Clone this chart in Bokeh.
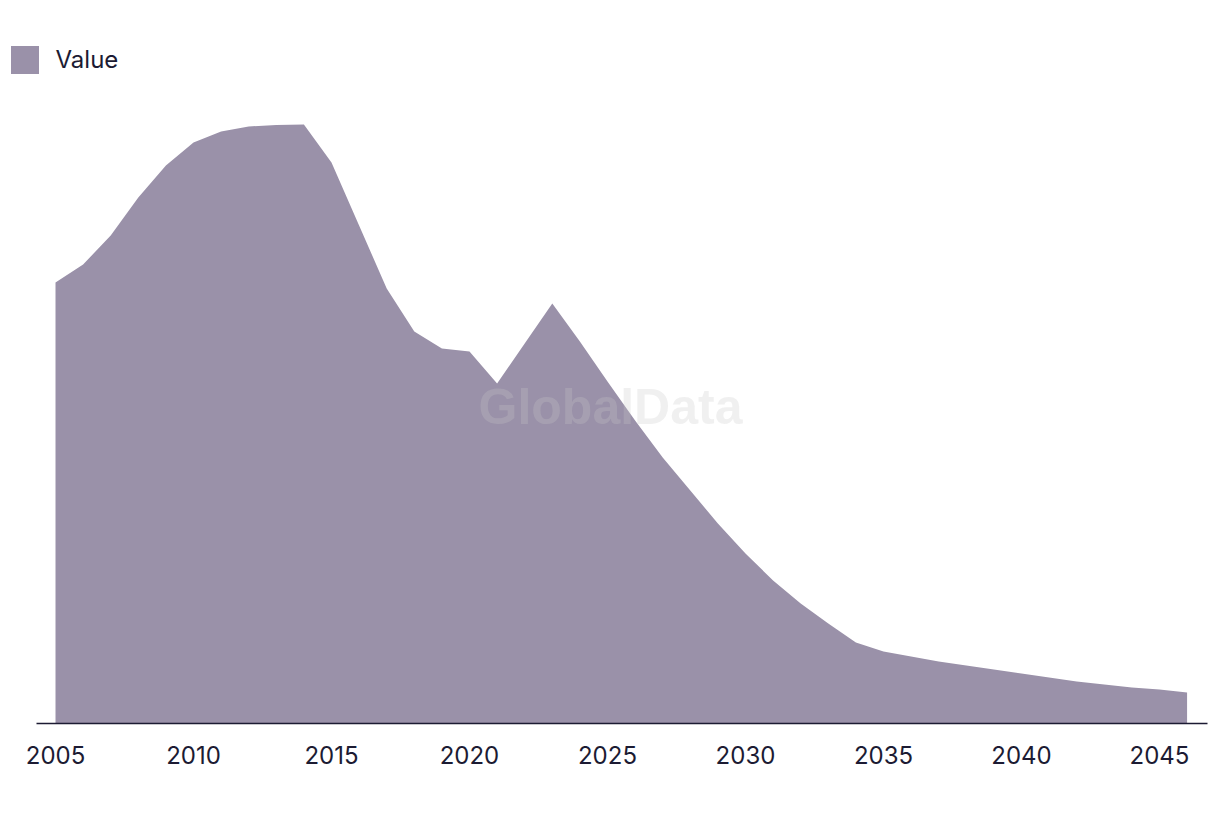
from bokeh.plotting import figure
from bokeh.models import Range1d, Legend, LegendItem, Label, ColumnDataSource, FixedTicker
from bokeh.embed import file_html
from bokeh.resources import INLINE

years = list(range(2005, 2047))
values = [441, 459, 488, 526, 558, 581, 592, 597, 598.5, 599,
          561, 498, 435, 392, 375, 372, 340, 380, 420, 382,
          342, 303, 266, 233, 200, 170, 143, 120, 100, 81,
          72, 67, 62, 58, 54, 50, 46, 42, 39, 36, 34, 31]
tick_years = [2005, 2010, 2015, 2020, 2025, 2030, 2035, 2040, 2045]
series_name = "Value"

FILL = "#9a91a9"
TEXT = "#1c1b33"
FONT = "Inter"

src = ColumnDataSource(dict(x=years, y=values, y0=[0] * len(years)))

p = figure(width=1220, height=814, output_backend="svg", toolbar_location=None,
           x_range=Range1d(2003.007, 2046.74), y_range=Range1d(0, 693),
           y_axis_location=None,
           min_border_left=0, min_border_right=13, min_border_top=30, min_border_bottom=91)
p.outline_line_color = None
p.xgrid.grid_line_color = None
p.ygrid.grid_line_color = None
p.background_fill_color = "white"
p.border_fill_color = "white"

r = p.varea(x="x", y1="y0", y2="y", source=src, fill_color=FILL, fill_alpha=1)

ax = p.xaxis[0]
ax.bounds = (2004.31, 2046.74)
ax.ticker = FixedTicker(ticks=tick_years)
ax.major_tick_line_color = None
ax.minor_tick_line_color = None
ax.major_tick_out = 0
ax.major_tick_in = 0
ax.major_label_standoff = 22
ax.axis_line_color = TEXT
ax.axis_line_width = 1.5
ax.major_label_text_font = FONT
ax.major_label_text_font_size = "24px"
ax.major_label_text_color = TEXT

wm = Label(x=610, y=317, x_units="screen", y_units="screen", text="GlobalData",
           text_font="Liberation Sans", text_font_style="bold", text_font_size="50px",
           text_color="#c8c8c8", text_alpha=0.27, text_align="center", text_baseline="middle")
p.add_layout(wm)

legend = Legend(items=[LegendItem(label=series_name, renderers=[r])],
                location=(6.5, 646.5), padding=0, margin=0, spacing=0,
                glyph_width=35, glyph_height=35, label_standoff=14,
                label_text_font=FONT, label_text_font_size="24px", label_text_color=TEXT,
                label_text_baseline="middle", label_height=35,
                border_line_color=None, background_fill_alpha=0)
p.add_layout(legend)

open("out.html", "w").write(file_html(p, INLINE))
